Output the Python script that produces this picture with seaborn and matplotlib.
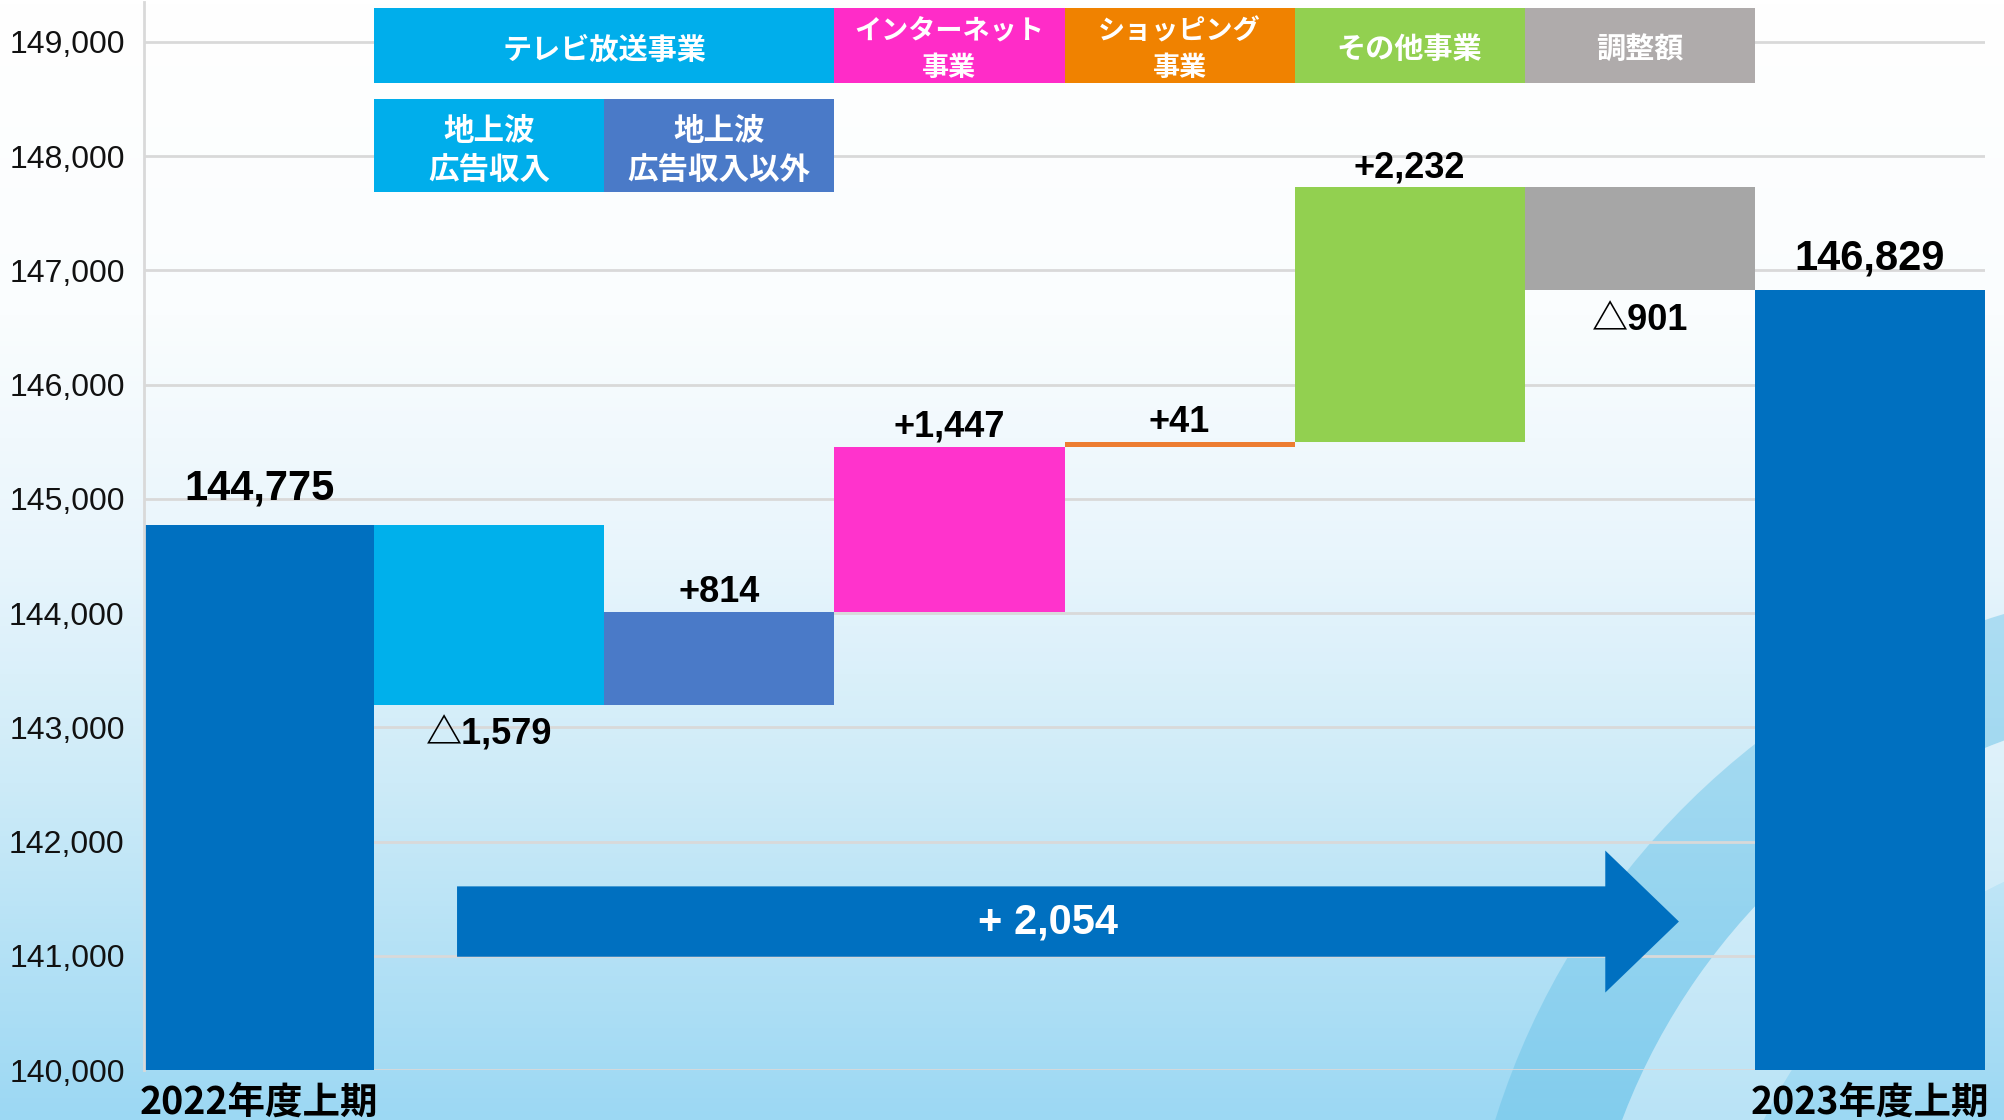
import numpy as np
import pandas as pd
import matplotlib
matplotlib.use("Agg")
import matplotlib.pyplot as plt
import seaborn as sns
from matplotlib.colors import LinearSegmentedColormap
from matplotlib.patches import Rectangle, FancyArrow, Wedge

# data
categories = ["2022年度上期", "地上波広告収入", "地上波広告収入以外", "インターネット事業",
              "ショッピング事業", "その他事業", "調整額", "2023年度上期"]
start_value = 144775
changes = [-1579, 814, 1447, 41, 2232, -901]
end_value = 146829
total_change = 2054
change_labels = ["△1,579", "+814", "+1,447", "+41", "+2,232", "△901"]
bar_colors = ["#0070C0", "#00B0EB", "#4A7AC8", "#FF33CC", "#ED7D31", "#92D050", "#A6A6A6", "#0070C0"]
header_top = ["テレビ放送事業", "インターネット\n事業", "ショッピング\n事業", "その他事業", "調整額"]
header_top_span = [(1, 2), (3, 3), (4, 4), (5, 5), (6, 6)]
header_top_colors = ["#00AEEB", "#FF2CC8", "#F08200", "#92D050", "#AFABAB"]
header_sub = ["地上波\n広告収入", "地上波\n広告収入以外"]
header_sub_colors = ["#00AEEB", "#4A7AC8"]
yticks = [140000, 141000, 142000, 143000, 144000, 145000, 146000, 147000, 148000, 149000]

sns.set_style("white")
jp = ["Noto Sans CJK JP", "DejaVu Sans"]
num = ["Liberation Sans", "Noto Sans CJK JP", "DejaVu Sans"]
plt.rcParams["font.family"] = num
plt.rcParams["text.color"] = "black"

# waterfall levels
levels = [start_value]
for c in changes:
    levels.append(levels[-1] + c)
bottoms = [0] + [min(levels[i], levels[i + 1]) for i in range(len(changes))] + [0]
heights = [start_value] + [abs(c) for c in changes] + [end_value]
df = pd.DataFrame({"cat": categories, "height": heights, "bottom": bottoms})

fig = plt.figure(figsize=(20.04, 11.2), dpi=100)

# background gradient + decorative arcs
bg = fig.add_axes([0, 0, 1, 1], zorder=0)
cmap = LinearSegmentedColormap.from_list(
    "bg", [(0, "#9CD8F3"), (0.3, "#CDEBF8"), (0.5, "#E8F5FC"), (0.72, "#FAFDFE"), (1, "#FFFFFF")])
bg.imshow(np.linspace(0, 1, 256).reshape(-1, 1), cmap=cmap, aspect="auto",
          origin="lower", extent=[0, 2004, 0, 1120])
bg.add_patch(Wedge((2230, -230), 770, 90, 200, width=120, color="#5DBDE6", alpha=0.4, lw=0))
bg.add_patch(Wedge((2230, -230), 650, 90, 200, width=130, color="#FFFFFF", alpha=0.3, lw=0))
bg.set_xlim(0, 2004)
bg.set_ylim(0, 1120)
bg.axis("off")

ax = fig.add_axes([0.0719, 0.0446, 0.9186, 0.9536], zorder=1)
ax.set_facecolor("none")

sns.barplot(data=df, x="cat", y="height", hue="cat", palette=bar_colors, legend=False,
            width=1.0, saturation=1, ax=ax, zorder=2, linewidth=0)
for patch, b in zip(ax.patches, bottoms):
    patch.set_y(b)

ax.set_xlim(-0.5, 7.5)
ax.set_ylim(140000, 149350)
ax.set_yticks(yticks)
ax.set_yticklabels([f"{v:,}" for v in yticks], fontsize=23, color="#111111")
ax.set_xticks(range(len(categories)))
ax.set_xticklabels([categories[0]] + [""] * 6 + [categories[-1]], fontsize=27,
                   fontweight="bold", family=jp, color="black")
ax.tick_params(axis="x", length=0, pad=9)
ax.tick_params(axis="y", length=0, pad=14)
ax.set_xlabel("")
ax.set_ylabel("")
ax.grid(axis="y", color="#D9D9D9", lw=2, zorder=0)
ax.set_axisbelow(True)
for s in ["top", "right", "bottom"]:
    ax.spines[s].set_visible(False)
ax.spines["left"].set_color("#D9D9D9")
ax.spines["left"].set_linewidth(2)

# value labels
ax.text(0, start_value + 320, f"{start_value:,}", ha="center", va="center",
        fontsize=30, fontweight="bold", zorder=5)
ax.text(7, end_value + 280, f"{end_value:,}", ha="center", va="center",
        fontsize=30, fontweight="bold", zorder=5)
for i, (c, lab) in enumerate(zip(changes, change_labels)):
    if c >= 0:
        y = levels[i + 1] + 170
    else:
        y = levels[i + 1] - 265
    ax.text(i + 1, y, lab, ha="center", va="center", fontsize=26, fontweight="bold", zorder=5)

# header boxes
for lab, (a, b), col in zip(header_top, header_top_span, header_top_colors):
    ax.add_patch(Rectangle((a - 0.5, 148640), b - a + 1, 660, color=col, zorder=4, clip_on=False, lw=0))
    ax.text((a + b) / 2, 148935, lab, ha="center", va="center", color="white",
            fontsize=21 if "\n" not in lab else 19.5,
            fontweight="bold", family=jp, linespacing=1.4, zorder=5)
for i, (lab, col) in enumerate(zip(header_sub, header_sub_colors)):
    ax.add_patch(Rectangle((i + 0.5, 147690), 1, 810, color=col, zorder=4, lw=0))
    ax.text(i + 1, 148050, lab, ha="center", va="center", color="white", fontsize=22,
            fontweight="bold", family=jp, linespacing=1.3, zorder=5)

# total change arrow
ax.add_patch(FancyArrow(0.86, 141300, 5.31, 0, width=616, head_width=1243, head_length=0.32,
                        length_includes_head=True, color="#0070C0", lw=0, zorder=4))
ax.text(3.43, 141290, f"+ {total_change:,}", ha="center", va="center", color="white",
        fontsize=30, fontweight="bold", zorder=5)

fig.savefig("out.png", dpi=100)
